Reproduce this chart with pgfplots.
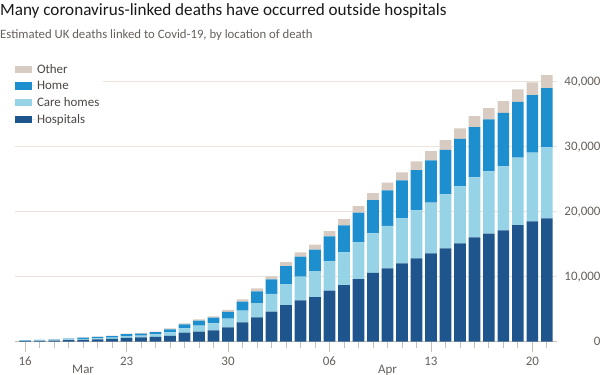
\documentclass[border=0pt]{standalone}
\usepackage{pgfplots}
\usepackage{pgfplotstable}
\pgfplotsset{compat=1.18}
\usepackage{fontspec}
\setmainfont{Carlito}
\definecolor{hosp}{HTML}{1E558C}
\definecolor{care}{HTML}{96D3E6}
\definecolor{homec}{HTML}{1E8FCE}
\definecolor{other}{HTML}{D8CBC1}
\definecolor{grid}{HTML}{EBE3DC}
\definecolor{axisc}{HTML}{C9BEB5}
\definecolor{subgray}{HTML}{66605C}
\definecolor{leggray}{HTML}{4D4845}
\pgfplotstableread{
x hosp care home other
0 100 60 70 20
1 120 70 85 25
2 150 85 100 25
3 230 120 140 30
4 290 150 170 40
5 350 180 200 50
6 420 210 230 60
7 580 280 300 70
8 650 300 310 80
9 760 350 360 90
10 880 560 460 160
11 1380 680 620 150
12 1540 920 770 210
13 1750 1080 860 210
14 2210 1330 1030 310
15 2980 1790 1380 370
16 3750 2200 1800 460
17 4610 2730 2260 460
18 5640 3230 2770 620
19 6370 3630 3070 680
20 6870 4000 3280 770
21 7860 4510 3840 810
22 8720 5030 4150 970
23 9640 5650 4550 1030
24 10570 6100 5120 1080
25 11290 6510 5490 1170
26 12060 6920 5840 1230
27 12830 7380 6200 1340
28 13600 7780 6520 1430
29 14370 8300 6860 1490
30 15130 8770 7320 1600
31 16060 9220 7740 1690
32 16610 9590 8000 1740
33 17130 9850 8240 1800
34 17950 10350 8610 1910
35 18520 10550 8870 1960
36 18980 10920 9120 2000
}\datatable
\begin{document}
\begin{tikzpicture}
\useasboundingbox (0,0) rectangle (600bp,375bp);
\node[anchor=base west, inner sep=0, text=black!90] at (0bp,359bp) {\fontsize{17.2}{20}\selectfont Many coronavirus-linked deaths have occurred outside hospitals};
\node[anchor=base west, inner sep=0, text=subgray] at (0bp,336.7bp) {\fontsize{12.8}{15}\selectfont Estimated UK deaths linked to Covid-19, by location of death};
\begin{axis}[
  at={(15bp,33.3bp)}, anchor=south west,
  scale only axis, width=542bp, height=273bp,
  xmin=-0.7, xmax=36.7, ymin=0, ymax=42000,
  ybar stacked, bar width=11.7bp, bar shift=0pt,
  axis x line*=bottom, axis y line*=right,
  x axis line style={draw=axisc, line width=1bp},
  y axis line style={draw=none},
  xtick={0,7,14,21,28,35},
  xticklabels={16,23,30,06,13,20},
  minor xtick={0,...,36},
  tick align=outside,
  major tick length=10bp, minor tick length=6bp,
  xtick style={draw=axisc, line width=0.8bp},
  minor x tick style={draw=axisc, line width=0.8bp},
  ytick={0,10000,20000,30000,40000},
  ytick style={draw=none},
  ymajorgrids, grid style={draw=grid, line width=1bp},
  yticklabel style={anchor=east, xshift=37bp, text=subgray, font=\fontsize{13}{15}\selectfont},
  xticklabel style={anchor=north, yshift=-2bp, text=subgray, font=\fontsize{13}{15}\selectfont},
  /pgf/number format/assume math mode=true,
  scaled y ticks=false,
  yticklabel={\pgfmathprintnumber[1000 sep={,}]{\tick}},
  reverse legend,
  legend cell align=left,
  legend style={at={(-0.004,1.032)}, anchor=north west, draw=none, fill=white,
    font=\fontsize{13}{15}\selectfont, text=leggray, row sep=2.4bp, inner sep=2bp},
  legend image code/.code={\fill[#1] (0bp,-3.8bp) rectangle (17bp,3.8bp); \path (0bp,0bp) -- (20bp,0bp);},
  clip=false,
]
\addplot[fill=hosp, draw=none] table[x=x, y=hosp] {\datatable};
\addlegendentry{Hospitals}
\addplot[fill=care, draw=none] table[x=x, y=care] {\datatable};
\addlegendentry{Care homes}
\addplot[fill=homec, draw=none] table[x=x, y=home] {\datatable};
\addlegendentry{Home}
\addplot[fill=other, draw=none] table[x=x, y=other] {\datatable};
\addlegendentry{Other}
\node[text=subgray, font=\fontsize{13}{15}\selectfont, anchor=north] at (axis cs:4,0) [yshift=-19.5bp] {Mar};
\node[text=subgray, font=\fontsize{13}{15}\selectfont, anchor=north] at (axis cs:25,0) [yshift=-19.5bp] {Apr};
\end{axis}
\end{tikzpicture}
\end{document}
